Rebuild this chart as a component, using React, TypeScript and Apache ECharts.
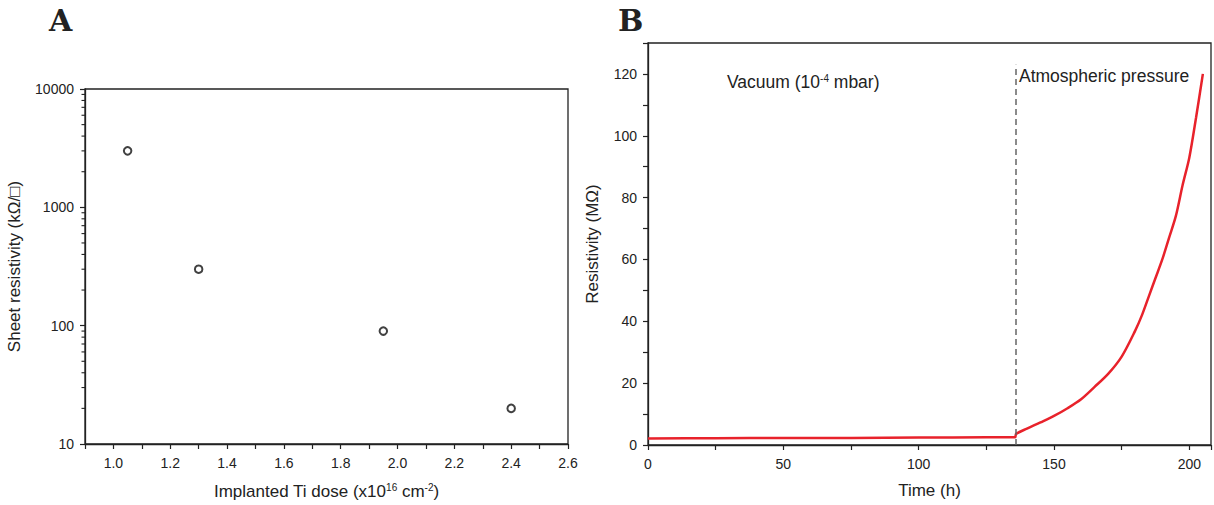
import React, { useEffect, useRef } from "react";
import * as echarts from "echarts";

// Panel A data
const doseX = [1.05, 1.3, 1.95, 2.4];
const sheetRes = [3000, 300, 90, 20];
const logMinorTicks = [20, 30, 40, 50, 60, 70, 80, 90, 200, 300, 400, 500, 600, 700, 800, 900, 2000, 3000, 4000, 5000, 6000, 7000, 8000, 9000];

// Panel B data
const timeH = [0, 25, 50, 75, 100, 125, 135.6, 136, 140, 145, 150, 155, 160, 165, 170, 175, 180, 182.5, 185, 187.5, 190, 192.5, 195, 197.5, 200, 202.5, 205];
const resistivity = [2.1, 2.2, 2.3, 2.3, 2.4, 2.5, 2.5, 3.6, 5.3, 7.3, 9.4, 11.9, 14.8, 18.8, 23, 28.6, 37, 42, 48, 54, 60, 67, 74, 84, 93, 106, 120];
const switchTime = 136;

const AXIS_COLOR = "#222";
const FONT = "'Liberation Sans', Arial, sans-serif";

export default function App() {
  const ref = useRef<HTMLDivElement>(null);
  useEffect(() => {
    if (!ref.current) return;
    const chart = echarts.init(ref.current, undefined, { renderer: "svg" });
    const axisLine = { show: true, lineStyle: { color: AXIS_COLOR, width: 1.3 } };
    const axisTick = { show: true, length: 5, inside: false, lineStyle: { color: AXIS_COLOR, width: 1.2 } };
    const labelStyle = { color: "#222", fontSize: 14, fontFamily: FONT };
    const nameStyle = { color: "#222", fontSize: 17, fontFamily: FONT };
    chart.setOption({
      animation: false,
      backgroundColor: "#fff",
      grid: [
        { left: 85, top: 89, width: 483, height: 355, show: true, borderColor: AXIS_COLOR, borderWidth: 1.3, backgroundColor: "transparent" },
        { left: 648, top: 43, width: 563, height: 402, show: true, borderColor: AXIS_COLOR, borderWidth: 1.3, backgroundColor: "transparent" },
      ],
      xAxis: [
        {
          gridIndex: 0, type: "value", min: 0.9, max: 2.6, interval: 0.1,
          axisLine, axisTick, splitLine: { show: false },
          axisLabel: {
            ...labelStyle, margin: 12,
            formatter: (v: number) => {
              const k = Math.round(v * 10);
              return k % 2 === 0 && k >= 10 ? (k / 10).toFixed(1) : "";
            },
          },
          name: "{n|Implanted Ti dose (x10}{s|16}{n| cm}{s|-2}{n|)}",
          nameLocation: "middle", nameGap: 38,
          nameTextStyle: {
            ...nameStyle,
            rich: {
              n: { fontSize: 17, fontFamily: FONT, color: "#222" },
              s: { fontSize: 10, fontFamily: FONT, color: "#222", verticalAlign: "top", padding: [0, 0, 8, 0] },
            },
          },
        },
        {
          gridIndex: 1, type: "value", min: 0, max: 208, interval: 25,
          axisLine, axisTick, splitLine: { show: false },
          axisLabel: {
            ...labelStyle, margin: 12,
            formatter: (v: number) => (Math.round(v) % 50 === 0 && v <= 200 ? String(Math.round(v)) : ""),
          },
          name: "Time (h)", nameLocation: "middle", nameGap: 37, nameTextStyle: nameStyle,
        },
      ],
      yAxis: [
        {
          gridIndex: 0, type: "log", logBase: 10, min: 10, max: 10000,
          axisLine, axisTick, splitLine: { show: false }, minorTick: { show: false },
          axisLabel: { ...labelStyle, margin: 11, formatter: (v: number) => String(Math.round(v)) },
          name: "Sheet resistivity (kΩ/□)", nameLocation: "middle", nameGap: 62, nameTextStyle: nameStyle,
        },
        {
          gridIndex: 1, type: "value", min: 0, max: 130, interval: 10,
          axisLine, axisTick, splitLine: { show: false },
          axisLabel: {
            ...labelStyle, margin: 11,
            formatter: (v: number) => (Math.round(v) % 20 === 0 ? String(Math.round(v)) : ""),
          },
          name: "Resistivity (MΩ)", nameLocation: "middle", nameGap: 47, nameTextStyle: nameStyle,
        },
      ],
      series: [
        {
          type: "scatter", xAxisIndex: 0, yAxisIndex: 0,
          data: doseX.map((x, i) => [x, sheetRes[i]]),
          symbol: "circle", symbolSize: 7.5,
          itemStyle: { color: "#fff", borderColor: "#111", borderWidth: 2 },
        },
        {
          type: "custom", xAxisIndex: 0, yAxisIndex: 0, silent: true,
          data: logMinorTicks.map((v) => [0.9, v]),
          renderItem: (params: any, api: any) => {
            const p = api.coord([api.value(0), api.value(1)]);
            return {
              type: "line",
              shape: { x1: p[0] - 3.5, y1: p[1], x2: p[0], y2: p[1] },
              style: { stroke: AXIS_COLOR, lineWidth: 1.1 },
            };
          },
        },
        {
          type: "line", xAxisIndex: 1, yAxisIndex: 1,
          data: timeH.map((t, i) => [t, resistivity[i]]),
          showSymbol: false, symbol: "none", smooth: 0.3,
          lineStyle: { color: "#e8222b", width: 2.5 },
          markLine: {
            silent: true, symbol: "none", label: { show: false },
            lineStyle: { color: "#666", type: [6, 4], width: 1.5 },
            data: [[{ coord: [switchTime, 0] }, { coord: [switchTime, 123] }]],
          },
        },
      ],
      graphic: [
        { type: "text", left: 49, top: 5, style: { text: "A", font: "bold 30px 'DejaVu Serif', serif", fill: "#222" } },
        { type: "text", left: 618, top: 5, style: { text: "B", font: "bold 30px 'DejaVu Serif', serif", fill: "#222" } },
        {
          type: "text", left: 727, top: 73,
          style: {
            text: "{n|Vacuum (10}{s|-4}{n| mbar)}",
            rich: {
              n: { fontSize: 17.5, fontFamily: FONT, fill: "#222" },
              s: { fontSize: 10, fontFamily: FONT, fill: "#222", verticalAlign: "top", padding: [0, 0, 8, 0] },
            },
          },
        },
        { type: "text", left: 1019, top: 67, style: { text: "Atmospheric pressure", font: `17.5px ${FONT}`, fill: "#222" } },
      ],
    });
    return () => chart.dispose();
  }, []);
  return <div ref={ref} style={{ position: "fixed", left: 0, top: 0, width: 1214, height: 505 }} />;
}
